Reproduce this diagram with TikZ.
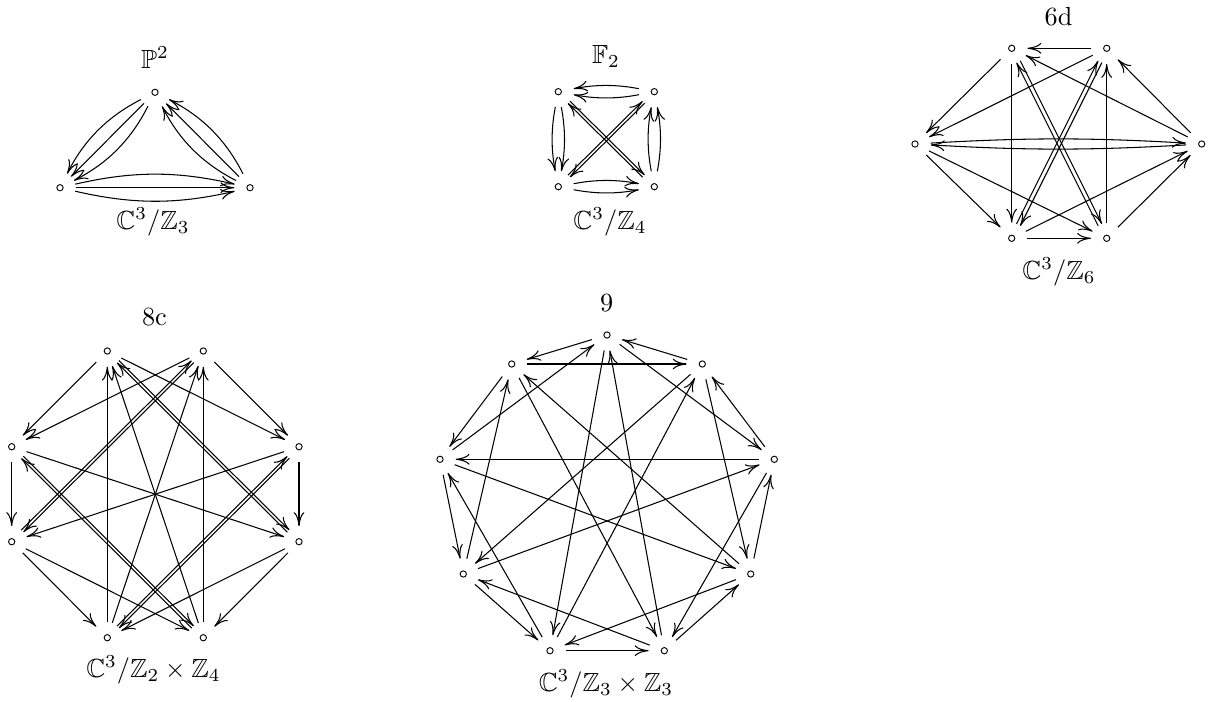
\documentclass[tikz,border=0pt]{standalone}
\usepackage{amssymb}
\usetikzlibrary{arrows.meta,calc}
\begin{document}
\begin{tikzpicture}[x=0.381pt,y=-0.381pt,
  vtx/.style={circle,draw,inner sep=0pt,minimum size=2.4pt,line width=0.35pt},
  lbl/.style={inner sep=0pt},
  arr/.style={-{To[length=5.3pt,width=4.1pt]},line width=0.4pt,shorten <=4.6pt,shorten >=4.6pt},
  par/.style={to path={($(\tikztostart)!#1!90:(\tikztotarget)$) -- ($(\tikztotarget)!#1!-90:(\tikztostart)$)},shorten <=5.7pt,shorten >=5.7pt},
]
\useasboundingbox (0,0) rectangle (1219,702);

% ---------- P^2 ----------
\node[lbl] (tP) at (155,57.5) {$\mathbb{P}^2$};
\node[lbl] (bP) at (153,221.7) {$\mathbb{C}^3/\mathbb{Z}_3$};
\node[vtx] (pT) at (155,92.3) {};
\node[vtx] (pL) at (60,187.7) {};
\node[vtx] (pR) at (250,187.7) {};
\draw[arr] (pL) -- (pR);
\draw[arr] (pL) to[bend left=13] (pR);
\draw[arr] (pL) to[bend right=13] (pR);
\draw[arr] (pR) -- (pT);
\draw[arr] (pR) to[bend left=18] (pT);
\draw[arr] (pR) to[bend right=18] (pT);
\draw[arr] (pT) -- (pL);
\draw[arr] (pT) to[bend left=18] (pL);
\draw[arr] (pT) to[bend right=18] (pL);

% ---------- F_2 ----------
\node[lbl] (tF) at (606,56) {$\mathbb{F}_2$};
\node[lbl] (bF) at (610,221.7) {$\mathbb{C}^3/\mathbb{Z}_4$};
\node[vtx] (fTL) at (558.3,91.7) {};
\node[vtx] (fTR) at (654.3,91.7) {};
\node[vtx] (fBL) at (558.3,186.7) {};
\node[vtx] (fBR) at (654.3,186.7) {};
\draw[arr] (fTR) to[bend left=11] (fTL);
\draw[arr] (fTR) to[bend right=11] (fTL);
\draw[arr] (fTL) to[bend left=11] (fBL);
\draw[arr] (fTL) to[bend right=11] (fBL);
\draw[arr] (fBL) to[bend left=11] (fBR);
\draw[arr] (fBL) to[bend right=11] (fBR);
\draw[arr] (fBR) to[bend left=11] (fTR);
\draw[arr] (fBR) to[bend right=11] (fTR);
\draw[arr,par=0.55pt] (fTL) to (fBR);
\draw[arr,par=0.55pt] (fBR) to (fTL);
\draw[arr,par=0.55pt] (fBL) to (fTR);
\draw[arr,par=0.55pt] (fTR) to (fBL);

% ---------- 6d ----------
\node[lbl] (tS) at (1058.5,16.5) {6d};
\node[lbl] (bS) at (1059,272) {$\mathbb{C}^3/\mathbb{Z}_6$};
\node[vtx] (sTL) at (1011.7,48.3) {};
\node[vtx] (sTR) at (1106.7,48.3) {};
\node[vtx] (sL) at (915,144) {};
\node[vtx] (sR) at (1201.7,144) {};
\node[vtx] (sBL) at (1011.7,238.3) {};
\node[vtx] (sBR) at (1106.7,238.3) {};
\draw[arr] (sTR) -- (sTL);
\draw[arr] (sTL) -- (sL);
\draw[arr] (sTR) -- (sL);
\draw[arr] (sL) to[bend left=3.3] (sR);
\draw[arr] (sR) to[bend left=3.3] (sL);
\draw[arr] (sR) -- (sTL);
\draw[arr] (sR) -- (sTR);
\draw[arr] (sTL) -- (sBL);
\draw[arr,par=0.8pt] (sTL) to (sBR);
\draw[arr,par=0.8pt] (sBR) to (sTL);
\draw[arr,par=0.8pt] (sTR) to (sBL);
\draw[arr,par=0.8pt] (sBL) to (sTR);
\draw[arr] (sBR) -- (sTR);
\draw[arr] (sL) -- (sBL);
\draw[arr] (sL) -- (sBR);
\draw[arr] (sBL) -- (sR);
\draw[arr] (sBR) -- (sR);
\draw[arr] (sBL) -- (sBR);

% ---------- 8c ----------
\node[lbl] (tE) at (154.5,317.5) {8c};
\node[lbl] (bE) at (153.5,670) {$\mathbb{C}^3/\mathbb{Z}_2\times\mathbb{Z}_4$};
\node[vtx] (eT1) at (107.3,351) {};
\node[vtx] (eT2) at (203.3,351) {};
\node[vtx] (eL1) at (11.7,446.7) {};
\node[vtx] (eR1) at (299,446.7) {};
\node[vtx] (eL2) at (11.7,541.7) {};
\node[vtx] (eR2) at (299,541.7) {};
\node[vtx] (eB1) at (107.3,637.7) {};
\node[vtx] (eB2) at (203.3,637.7) {};
\draw[arr] (eT1) -- (eL1);
\draw[arr] (eT2) -- (eL1);
\draw[arr] (eT1) -- (eR1);
\draw[arr] (eT2) -- (eR1);
\draw[arr] (eB1) -- (eT1);
\draw[arr] (eB2) -- (eT2);
\draw[arr] (eB2) -- (eT1);
\draw[arr] (eB1) -- (eT2);
\draw[arr,par=0.55pt] (eT1) to (eR2);
\draw[arr,par=0.55pt] (eR2) to (eT1);
\draw[arr,par=0.55pt] (eT2) to (eL2);
\draw[arr,par=0.55pt] (eL2) to (eT2);
\draw[arr] (eL1) -- (eL2);
\draw[arr] (eR1) -- (eR2);
\draw[arr] (eL1) -- (eR2);
\draw[arr] (eR1) -- (eL2);
\draw[arr,par=0.55pt] (eL1) to (eB2);
\draw[arr,par=0.55pt] (eB2) to (eL1);
\draw[arr,par=0.55pt] (eR1) to (eB1);
\draw[arr,par=0.55pt] (eB1) to (eR1);
\draw[arr] (eL2) -- (eB1);
\draw[arr] (eL2) -- (eB2);
\draw[arr] (eR2) -- (eB2);
\draw[arr] (eR2) -- (eB1);

% ---------- 9 ----------
\node[lbl] (tN) at (606.7,303.3) {9};
\node[lbl] (bN) at (606,684) {$\mathbb{C}^3/\mathbb{Z}_3\times\mathbb{Z}_3$};
\node[vtx] (n0) at (607,335) {};
\node[vtx] (n1) at (511.7,364) {};
\node[vtx] (n2) at (702.3,364) {};
\node[vtx] (n3) at (440,459.3) {};
\node[vtx] (n4) at (774.3,459.3) {};
\node[vtx] (n5) at (463.3,574) {};
\node[vtx] (n6) at (750.7,574) {};
\node[vtx] (n7) at (550,650.7) {};
\node[vtx] (n8) at (664.3,650.7) {};
\draw[arr] (n0) -- (n1);
\draw[arr] (n3) -- (n0);
\draw[arr] (n2) -- (n0);
\draw[arr] (n1) -- (n2);
\draw[arr] (n0) -- (n4);
\draw[arr] (n2) -- (n6);
\draw[arr] (n4) -- (n2);
\draw[arr] (n1) -- (n3);
\draw[arr] (n5) -- (n1);
\draw[arr] (n1) -- (n8);
\draw[arr] (n6) -- (n1);
\draw[arr] (n4) -- (n3);
\draw[arr] (n3) -- (n6);
\draw[arr] (n5) -- (n4);
\draw[arr] (n3) -- (n5);
\draw[arr] (n7) -- (n3);
\draw[arr] (n6) -- (n4);
\draw[arr] (n4) -- (n8);
\draw[arr] (n0) -- (n7);
\draw[arr] (n8) -- (n0);
\draw[arr] (n7) -- (n2);
\draw[arr] (n2) -- (n5);
\draw[arr] (n5) -- (n7);
\draw[arr] (n8) -- (n5);
\draw[arr] (n6) -- (n7);
\draw[arr] (n8) -- (n6);
\draw[arr] (n7) -- (n8);
\end{tikzpicture}
\end{document}
